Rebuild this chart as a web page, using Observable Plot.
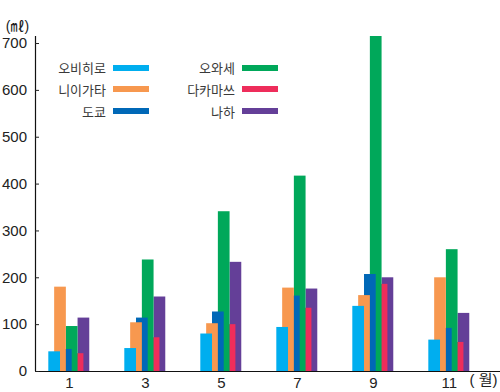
<!DOCTYPE html>
<html>
<head>
<meta charset="utf-8">
<script src="https://cdn.jsdelivr.net/npm/d3@7"></script>
<script src="https://cdn.jsdelivr.net/npm/@observablehq/plot@0.6"></script>
<style>
  html, body { margin: 0; padding: 0; background: #fff; }
  #wrap { position: relative; width: 500px; height: 392px; overflow: hidden; }
  #legend { position: absolute; left: 0; top: 0; width: 500px; height: 392px; pointer-events: none;
    font-family: "Noto Sans CJK KR", "Noto Sans", sans-serif; font-size: 13px; color: #3a3a3a; }
  .item { position: absolute; display: flex; align-items: center; justify-content: flex-end; height: 20px; }
  .item span.lab { white-space: nowrap; }
  .item span.sw { display: inline-block; width: 36px; height: 6px; margin-left: 7px; }
</style>
</head>
<body>
<div id="wrap"><div id="legend"></div></div>
<script>
// ---- data ----
const months = [1, 3, 5, 7, 9, 11];
const cities = ["오비히로", "니이가타", "도쿄", "오와세", "다카마쓰", "나하"];
const obihiro   = [42, 49, 80, 94, 139, 67];
const niigata   = [180, 104, 102, 178, 162, 200];
const tokyo     = [47, 114, 127, 161, 207, 92];
const owase     = [96, 238, 341, 417, 715, 260];
const takamatsu = [38, 72, 100, 135, 186, 62];
const naha      = [114, 159, 233, 176, 200, 124];
const colors = ["#00aeef", "#f7984f", "#0068b7", "#00a85a", "#ee2d5b", "#643f98"];
const yTicks = [0, 100, 200, 300, 400, 500, 600, 700];
const xTicks = [1, 3, 5, 7, 9, 11];
const yUnit = "(㎖)";
const xUnit = "( 월)";

const seriesValues = [obihiro, niigata, tokyo, owase, takamatsu, naha];

// drawing order: last series first so the first series sits on top
const rows = [];
for (let i = cities.length - 1; i >= 0; i--) {
  months.forEach((m, j) => rows.push({city: cities[i], idx: i, month: m, value: seriesValues[i][j]}));
}

const groupStart = -0.5395, step = 0.154, barW = 0.308;
const xDomain = [0.1105, 12.347];
const numFont = '"Liberation Sans", Arial, sans-serif';
const mixFont = '"Liberation Sans", "Noto Sans CJK KR", sans-serif';

const chart = Plot.plot({
  width: 500,
  height: 392,
  marginLeft: 35,
  marginRight: 0,
  marginTop: 36,
  marginBottom: 21,
  style: {fontFamily: numFont, fontSize: "15px", color: "#222", background: "white"},
  x: {domain: xDomain, axis: null},
  y: {domain: [0, 715], axis: null},
  color: {domain: cities, range: colors},
  marks: [
    Plot.rect(rows, {
      x1: d => d.month + groupStart + d.idx * step,
      x2: d => d.month + groupStart + d.idx * step + barW,
      y1: 0,
      y2: "value",
      fill: "city"
    }),
    Plot.ruleY([0], {stroke: "#111", strokeWidth: 1.2}),
    Plot.ruleX([xDomain[0]], {y1: 0, y2: 715, stroke: "#111", strokeWidth: 1.2}),
    Plot.axisY(yTicks, {anchor: "left", label: null, tickSize: -4, tickPadding: 12.5, fontSize: 15, fill: "#222", stroke: "#222"}),
    Plot.axisX(xTicks, {anchor: "bottom", label: null, tickSize: 0, tickPadding: 6, fontSize: 15, fill: "#222"}),
    Plot.text([xUnit], {frameAnchor: "bottom-right", text: d => d, dx: -3, dy: 13, textAnchor: "end",
      fontSize: 15, fill: "#222", fontFamily: mixFont}),
    Plot.text([yUnit], {frameAnchor: "top-left", text: d => d, dx: -18, dy: -15, textAnchor: "middle",
      fontSize: 14, fill: "#222", fontFamily: mixFont})
  ]
});
document.getElementById("wrap").prepend(chart);

// legend overlay
const legend = document.getElementById("legend");
cities.forEach((c, i) => {
  const col = Math.floor(i / 3), row = i % 3;
  const right = col === 0 ? 149 : 278;
  const cy = [67.5, 89.3, 111][row];
  const div = document.createElement("div");
  div.className = "item";
  div.style.left = (right - 140) + "px";
  div.style.width = "140px";
  div.style.top = (cy - 10) + "px";
  div.innerHTML = `<span class="lab">${c}</span><span class="sw" style="background:${colors[i]}"></span>`;
  legend.appendChild(div);
});
</script>
</body>
</html>
